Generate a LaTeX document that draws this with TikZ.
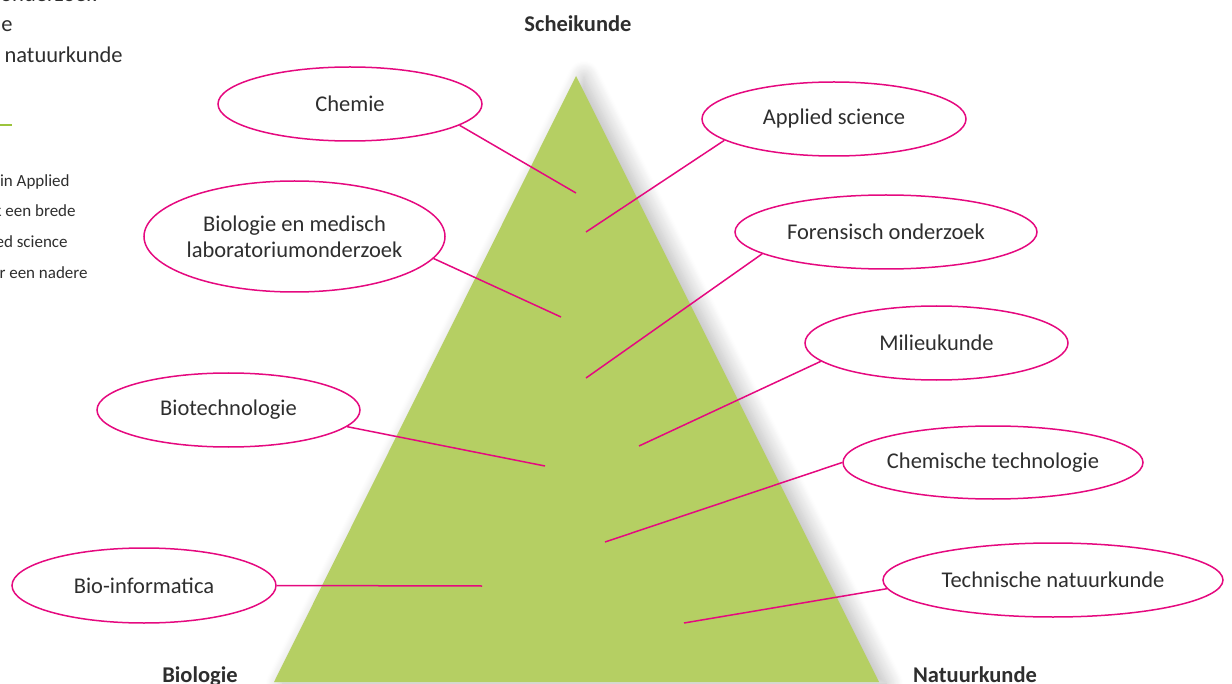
\documentclass[tikz,border=0pt]{standalone}
\usepackage{fontspec}
\setmainfont{Carlito}
\usetikzlibrary{shapes.geometric,shadows.blur}
\definecolor{trigreen}{HTML}{B5CF63}
\definecolor{pinkline}{HTML}{E5097F}
\definecolor{txt}{HTML}{2E2E2E}
\definecolor{limeline}{HTML}{9CC43C}
\begin{document}
\begin{tikzpicture}[x=0.5pt,y=-0.5pt,
  bubble/.style={ellipse,draw=pinkline,line width=0.75pt,inner sep=0pt,text=txt,
    font=\fontsize{11.25}{13}\selectfont,align=center},
  conn/.style={draw=pinkline,line width=0.75pt},
  cornerlabel/.style={font=\bfseries\fontsize{11.25}{13}\selectfont,text=txt,anchor=base,inner sep=0pt},
  frag/.style={font=\fontsize{11.25}{13}\selectfont,text=txt,anchor=base east,inner sep=0pt},
  fragsmall/.style={font=\fontsize{8.5}{10}\selectfont,text=txt,anchor=base east,inner sep=0pt}]
\useasboundingbox (0,0) rectangle (1232,684);

% triangle with soft shadow
\path[fill=trigreen, blur shadow={shadow xshift=4pt, shadow yshift=-0.5pt,
   shadow blur radius=8pt, shadow blur steps=20, shadow opacity=28}]
   (576,76) -- (274,682) -- (879,682) -- cycle;

% cut-off text at the left
\node[frag] (f1) at (97,2) {onderzoek};
\node[frag] (f2) at (13,32) {de};
\node[frag] (f3) at (123,63) {natuurkunde};
\coordinate (g1) at (0,125);
\coordinate (g2) at (12,125);
\draw[limeline, line width=0.75pt] (g1) -- (g2);
\node[fragsmall] (s1) at (70,187) {in Applied};
\node[fragsmall] (s2) at (76,217) {k een brede};
\node[fragsmall] (s3) at (68,248) {ed science};
\node[fragsmall] (s4) at (88,279) {r een nadere};

% corner labels
\node[cornerlabel] (schei) at (578,32) {Scheikunde};
\node[cornerlabel] (bio) at (200,682) {Biologie};
\node[cornerlabel] (natuur) at (975,682) {Natuurkunde};

% bubbles
\node[bubble, minimum width=132pt, minimum height=37pt] (chemie) at (350,104) {Chemie};
\node[bubble, minimum width=132pt, minimum height=37pt] (applied) at (834,119) {Applied science};
\node[bubble, minimum width=150.5pt, minimum height=55.5pt, inner xsep=-2pt] (biomed) at (294.5,236.5) {Biologie en medisch\\laboratoriumonderzoek};
\node[bubble, minimum width=151pt, minimum height=37pt] (foren) at (886,232) {Forensisch onderzoek};
\node[bubble, minimum width=131.5pt, minimum height=37pt] (milieu) at (936.5,343) {Milieukunde};
\node[bubble, minimum width=131.5pt, minimum height=37pt] (biotech) at (228.5,410) {Biotechnologie};
\node[bubble, minimum width=150pt, minimum height=36.5pt] (chemtech) at (993,462.5) {Chemische technologie};
\node[bubble, minimum width=132pt, minimum height=37.5pt] (bioinfo) at (144,585.5) {Bio-informatica};
\node[bubble, minimum width=170pt, minimum height=37pt] (technat) at (1053,580) {Technische natuurkunde};

% free ends inside the triangle
\coordinate (e1) at (576,193);
\coordinate (e2) at (586,232);
\coordinate (e3) at (561,317);
\coordinate (e4) at (586,378);
\coordinate (e5) at (639,446);
\coordinate (e6) at (545,466);
\coordinate (e7) at (605,542);
\coordinate (e8) at (482,586);
\coordinate (e9) at (684,623);

% connectors
\draw[conn] (chemie.-11.6) -- (e1);
\draw[conn] (applied.-169.9) -- (e2);
\draw[conn] (biomed.-9) -- (e3);
\draw[conn] (foren.-170.4) -- (e4);
\draw[conn] (milieu.-171.4) -- (e5);
\draw[conn] (biotech.-8.2) -- (e6);
\draw[conn] (chemtech.180) -- (e7);
\draw[conn] (bioinfo.0) -- (e8);
\draw[conn] (technat.-177.3) -- (e9);
\end{tikzpicture}
\end{document}
